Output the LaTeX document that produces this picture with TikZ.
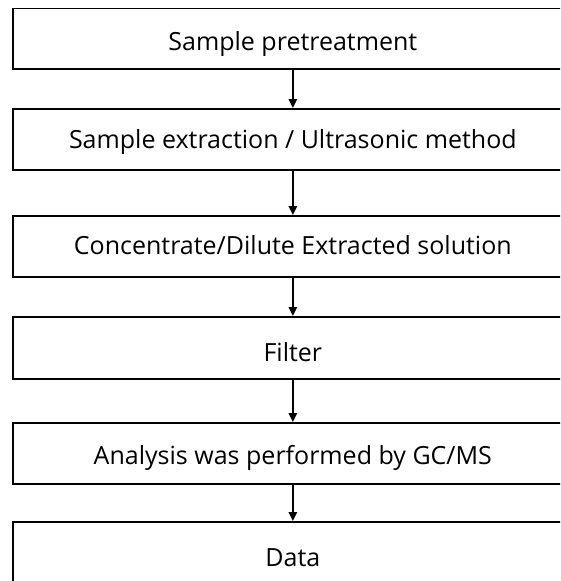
\documentclass[tikz,border=0pt]{standalone}
\usepackage{fontspec}
\setmainfont{Open Sans}
\usetikzlibrary{arrows.meta}
\newcommand{\down}[2]{\raisebox{-#1pt}{#2}}
\begin{document}
\begin{tikzpicture}[x=1pt,y=-1pt,
  stepbox/.style={draw=black,line width=1.7pt,minimum width=560pt,inner sep=0pt,
    font=\fontsize{25}{28}\selectfont,anchor=north west,text depth=0pt},
  flow/.style={line width=1.4pt,-{Triangle[length=9pt,width=8.5pt]}}]
\clip (0,0) rectangle (560,581);
\fill[white] (0,0) rectangle (560,581);
\node[stepbox,minimum height=60.5pt] (b1) at (12,7.5) {\down{5}{Sample pretreatment}};
\node[stepbox,minimum height=61pt] (b2) at (12,108) {\down{0}{Sample extraction / Ultrasonic method}};
\node[stepbox,minimum height=61pt] (b3) at (12,215) {\down{-2}{Concentrate/Dilute Extracted solution}};
\node[stepbox,minimum height=62pt] (b4) at (12,316) {\down{8}{Filter}};
\node[stepbox,minimum height=61pt] (b5) at (12,422) {\down{3}{Analysis was performed by GC/MS}};
\node[stepbox,minimum height=62pt] (b6) at (12,521) {\down{10}{Data}};
\draw[flow] (b1.south) -- (b2.north);
\draw[flow] (b2.south) -- (b3.north);
\draw[flow] (b3.south) -- (b4.north);
\draw[flow] (b4.south) -- (b5.north);
\draw[flow] (b5.south) -- (b6.north);
\end{tikzpicture}
\end{document}
